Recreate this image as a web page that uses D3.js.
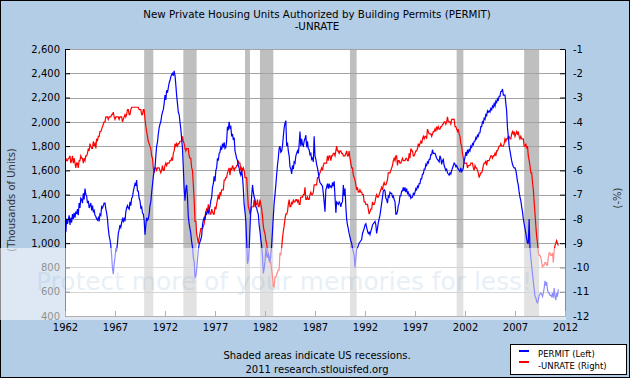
<!DOCTYPE html>
<html><head><meta charset="utf-8">
<script src="https://cdn.jsdelivr.net/npm/d3@7"></script>
<style>body{margin:0;background:#fff}svg{display:block}text{font-family:"DejaVu Sans",Verdana,sans-serif}</style>
</head><body><svg id="c" width="630" height="378"></svg>
<script>
const startYear = 1962;
// PERMIT, thousands of units (SAAR), monthly from Jan 1962
const permit = [
1140,1090,1200,1160,1190,1230,1150,1210,1170,1240,1200,1250,
1210,1260,1240,1280,1230,1330,1290,1370,1360,1330,1410,1360,
1450,1400,1390,1330,1350,1290,1310,1330,1270,1310,1260,1270,
1230,1220,1200,1190,1210,1180,1240,1230,1300,1290,1310,1330,
1330,1280,1250,1200,1120,1060,1030,980,900,790,745,830,
880,960,930,1000,1080,1110,1150,1130,1170,1200,1180,1210,
1180,1260,1290,1310,1290,1280,1340,1310,1370,1380,1430,1460,
1490,1480,1520,1430,1430,1370,1350,1290,1300,1250,1240,1190,
1070,1150,1210,1190,1200,1240,1310,1340,1420,1480,1550,1600,
1620,1720,1800,1830,1900,1950,1980,2000,2050,2080,2100,2150,
2220,2180,2260,2240,2280,2320,2340,2370,2390,2400,2380,2420,
2380,2300,2220,2150,2080,2060,2000,1940,1860,1780,1620,1450,
1350,1450,1480,1380,1220,1160,1120,1080,1010,970,880,850,
720,730,780,860,940,990,1010,1030,1060,1150,1190,1210,
1190,1250,1240,1270,1250,1280,1300,1350,1380,1460,1490,1550,
1510,1600,1620,1700,1680,1740,1750,1790,1770,1820,1790,1830,
1780,1790,1840,1960,1930,2000,1950,1960,1880,1900,1850,1870,
1760,1730,1700,1680,1640,1620,1580,1560,1600,1550,1450,1320,
1260,1180,1020,830,860,950,1120,1280,1390,1480,1420,1380,
1360,1300,1290,1260,1240,1150,1100,1030,980,890,750,790,
850,960,900,880,920,860,850,900,990,1100,1220,1330,
1400,1480,1560,1640,1700,1780,1800,1750,1760,1800,1880,1950,
1990,2010,1800,1830,1760,1720,1630,1610,1570,1640,1610,1670,
1660,1720,1740,1760,1740,1810,1920,1800,1860,1810,1800,1840,
1860,1890,1790,1840,1780,1770,1730,1740,1690,1700,1670,1880,
1720,1690,1650,1620,1580,1530,1500,1490,1480,1470,1410,1340,
1260,1440,1460,1490,1450,1490,1460,1470,1460,1500,1470,1510,
1380,1250,1340,1330,1320,1340,1330,1300,1330,1340,1480,1390,
1450,1300,1200,1150,1120,1080,1050,1020,1000,960,930,900,
800,880,950,960,980,1000,1010,1020,1030,1080,1100,1120,
1150,1160,1130,1100,1080,1090,1070,1100,1120,1150,1160,1170,
1180,1150,1080,1120,1170,1200,1230,1280,1330,1380,1430,1440,
1430,1370,1360,1330,1390,1380,1420,1410,1410,1380,1390,1360,
1340,1240,1240,1260,1310,1330,1390,1390,1430,1430,1460,1430,
1460,1420,1450,1410,1420,1390,1400,1370,1380,1380,1410,1400,
1420,1450,1440,1470,1460,1490,1490,1530,1530,1570,1570,1610,
1610,1650,1640,1670,1660,1690,1690,1730,1730,1770,1740,1740,
1740,1720,1700,1690,1680,1670,1720,1700,1650,1680,1690,1640,
1620,1600,1610,1580,1570,1560,1580,1570,1600,1620,1640,1660,
1650,1630,1640,1620,1610,1600,1590,1620,1590,1600,1620,1680,
1710,1750,1720,1770,1740,1770,1760,1800,1790,1820,1810,1840,
1840,1870,1860,1890,1880,1910,1910,1960,1960,2000,1990,2030,
2020,2060,2050,2090,2080,2090,2080,2110,2100,2130,2120,2150,
2130,2170,2160,2190,2180,2210,2210,2250,2250,2270,2220,2220,
2220,2150,2090,1950,1880,1800,1760,1720,1680,1650,1630,1620,
1620,1600,1560,1510,1480,1420,1380,1350,1300,1260,1200,1160,
1120,1080,1040,1000,1000,1200,960,880,810,750,680,620,
560,550,520,510,530,570,580,590,580,560,590,630,
690,650,680,620,590,590,570,570,560,590,550,630,
560,530,590,560,620
];
// UNRATE, percent, monthly from Jan 1962 (plotted as -UNRATE)
const unrate = [
5.8,5.5,5.6,5.6,5.5,5.5,5.4,5.7,5.6,5.4,5.7,5.5,
5.7,5.9,5.7,5.7,5.9,5.6,5.6,5.4,5.5,5.5,5.7,5.5,
5.6,5.4,5.4,5.3,5.1,5.2,4.9,5.0,5.1,5.1,4.8,5.0,
4.9,5.1,4.7,4.8,4.6,4.6,4.4,4.4,4.3,4.2,4.1,4.0,
4.0,3.8,3.8,3.8,3.9,3.8,3.8,3.8,3.7,3.7,3.6,3.8,
3.9,3.8,3.8,3.8,3.8,3.9,3.8,3.8,3.8,4.0,3.9,3.8,
3.7,3.8,3.7,3.5,3.5,3.7,3.7,3.5,3.4,3.4,3.4,3.4,
3.4,3.4,3.4,3.4,3.4,3.5,3.5,3.5,3.7,3.7,3.5,3.5,
3.9,4.2,4.4,4.6,4.8,4.9,5.0,5.1,5.4,5.5,5.9,6.1,
5.9,5.9,6.0,5.9,5.9,5.9,6.0,6.1,6.0,5.8,6.0,6.0,
5.8,5.7,5.8,5.7,5.7,5.7,5.6,5.6,5.5,5.6,5.3,5.2,
4.9,5.0,4.9,5.0,4.9,4.9,4.8,4.8,4.8,4.6,4.8,4.9,
5.1,5.2,5.1,5.1,5.1,5.4,5.5,5.5,5.9,6.0,6.6,7.2,
8.1,8.1,8.6,8.8,9.0,8.8,8.6,8.4,8.4,8.4,8.3,8.2,
7.9,7.7,7.6,7.7,7.4,7.6,7.8,7.8,7.6,7.7,7.8,7.8,
7.5,7.6,7.4,7.2,7.0,7.2,6.9,7.0,6.8,6.8,6.8,6.4,
6.4,6.3,6.3,6.1,6.0,5.9,6.2,5.9,6.0,5.8,5.9,6.0,
5.9,5.9,5.8,5.8,5.6,5.7,5.7,6.0,5.9,6.0,5.9,6.0,
6.3,6.3,6.3,6.9,7.5,7.6,7.8,7.7,7.5,7.5,7.5,7.2,
7.5,7.4,7.4,7.2,7.5,7.5,7.2,7.4,7.6,7.9,8.3,8.5,
8.6,8.9,9.0,9.3,9.4,9.6,9.8,9.8,10.1,10.4,10.8,10.8,
10.4,10.4,10.3,10.2,10.1,10.1,9.4,9.5,9.2,8.8,8.5,8.3,
8.0,7.8,7.8,7.7,7.4,7.2,7.5,7.5,7.3,7.4,7.2,7.3,
7.3,7.2,7.2,7.3,7.2,7.4,7.4,7.1,7.1,7.1,7.0,7.0,
6.7,7.2,7.2,7.1,7.2,7.2,7.0,6.9,7.0,7.0,6.9,6.6,
6.6,6.6,6.6,6.3,6.3,6.2,6.1,6.0,5.9,6.0,5.8,5.7,
5.7,5.7,5.7,5.4,5.6,5.4,5.4,5.6,5.4,5.4,5.3,5.3,
5.4,5.2,5.0,5.2,5.2,5.3,5.2,5.2,5.3,5.3,5.4,5.4,
5.4,5.3,5.2,5.4,5.4,5.2,5.5,5.7,5.9,5.9,6.2,6.3,
6.4,6.6,6.8,6.7,6.9,6.9,6.8,6.9,6.9,7.0,7.0,7.3,
7.3,7.4,7.4,7.4,7.6,7.8,7.7,7.6,7.6,7.3,7.4,7.4,
7.3,7.1,7.0,7.1,7.1,7.0,6.9,6.8,6.7,6.8,6.6,6.5,
6.6,6.6,6.5,6.4,6.1,6.1,6.1,6.0,5.9,5.8,5.6,5.5,
5.6,5.4,5.4,5.8,5.6,5.6,5.7,5.7,5.6,5.5,5.6,5.6,
5.6,5.5,5.5,5.6,5.6,5.3,5.5,5.1,5.2,5.2,5.4,5.4,
5.3,5.2,5.2,5.1,4.9,5.0,4.9,4.8,4.9,4.7,4.6,4.7,
4.6,4.6,4.7,4.3,4.4,4.5,4.5,4.5,4.6,4.5,4.4,4.4,
4.3,4.4,4.2,4.3,4.2,4.3,4.3,4.2,4.2,4.1,4.1,4.0,
4.0,4.1,4.0,3.8,4.0,4.0,4.0,4.1,3.9,3.9,3.9,3.9,
4.2,4.2,4.3,4.4,4.3,4.5,4.6,4.9,5.0,5.3,5.5,5.7,
5.7,5.7,5.7,5.9,5.8,5.8,5.8,5.7,5.7,5.7,5.9,6.0,
5.8,5.9,5.9,6.0,6.1,6.3,6.2,6.1,6.1,6.0,5.8,5.7,
5.7,5.6,5.8,5.6,5.6,5.6,5.5,5.4,5.4,5.5,5.4,5.4,
5.3,5.4,5.2,5.2,5.1,5.0,5.0,4.9,5.0,5.0,5.0,4.9,
4.7,4.8,4.7,4.7,4.6,4.6,4.7,4.7,4.5,4.4,4.5,4.4,
4.6,4.5,4.4,4.5,4.4,4.6,4.7,4.6,4.7,4.7,4.7,5.0,
5.0,4.9,5.1,5.0,5.4,5.6,5.8,6.1,6.1,6.5,6.8,7.3,
7.8,8.3,8.7,9.0,9.4,9.5,9.5,9.6,9.8,10.0,9.9,9.9,
9.8,9.8,9.9,9.9,9.6,9.4,9.4,9.5,9.5,9.4,9.8,9.3,
9.1,9.0,8.9,9.0,9.1
];
const recessions = [["1969-12","1970-11"],["1973-11","1975-03"],["1980-01","1980-07"],["1981-07","1982-11"],["1990-07","1991-03"],["2001-03","2001-11"],["2007-12","2009-06"]];
const leftTicks = [400,600,800,1000,1200,1400,1600,1800,2000,2200,2400,2600];
const rightTicks = [-12,-11,-10,-9,-8,-7,-6,-5,-4,-3,-2,-1];
const yearTicks = [1962,1967,1972,1977,1982,1987,1992,1997,2002,2007,2012];

const svg = d3.select("#c");
const L = 65, R = 565, T = 49, B = 316;
const parseM = d3.timeParse("%Y-%m");
const x = d3.scaleTime().domain([new Date(1962,0,1), new Date(2012,0,1)]).range([L, R]);
const yL = d3.scaleLinear().domain([400,2600]).range([B, T]);
const yR = d3.scaleLinear().domain([-12,-1]).range([B, T]);
const dateOf = i => new Date(startYear, i, 1);

// background
svg.append("rect").attr("x",0).attr("y",0).attr("width",630).attr("height",378).attr("fill","#b4cde6");
svg.append("rect").attr("x",0.5).attr("y",0.5).attr("width",629).attr("height",377).attr("fill","none").attr("stroke","#000").attr("stroke-width",1);
svg.append("rect").attr("x",L).attr("y",T).attr("width",R-L).attr("height",B-T).attr("fill","#fff");

// recessions
svg.append("g").selectAll("rect").data(recessions).join("rect")
  .attr("x", d => x(parseM(d[0]))).attr("y", T)
  .attr("width", d => x(parseM(d[1])) - x(parseM(d[0]))).attr("height", B-T)
  .attr("fill","#bfbfbf");

// grid
svg.append("g").selectAll("line").data(leftTicks).join("line")
  .attr("x1",L).attr("x2",R).attr("y1",d=>Math.round(yL(d))+0.5).attr("y2",d=>Math.round(yL(d))+0.5)
  .attr("stroke","#a3a3a3").attr("stroke-width",1);

svg.append("clipPath").attr("id","pc").append("rect").attr("x",L).attr("y",T-2).attr("width",R-L).attr("height",B-T+2);
const gl = svg.append("g").attr("clip-path","url(#pc)");
const lineL = d3.line().x((d,i)=>x(dateOf(i))).y(d=>yL(d));
const lineR = d3.line().x((d,i)=>x(dateOf(i))).y(d=>yR(-d));
gl.append("path").attr("d", lineR(unrate)).attr("fill","none").attr("stroke","#ff0000").attr("stroke-width",1.2);
gl.append("path").attr("d", lineL(permit)).attr("fill","none").attr("stroke","#0000ff").attr("stroke-width",1.2);

// axes
const axL = d3.axisLeft(yL).tickValues(leftTicks).tickSizeInner(-5).tickSizeOuter(0).tickPadding(5).tickFormat(d3.format(","));
const axR = d3.axisRight(yR).tickValues(rightTicks).tickSizeInner(-5).tickSizeOuter(0).tickPadding(8).tickFormat(d=>String(d));
const axB = d3.axisBottom(x).tickValues(yearTicks.map(y=>new Date(y,0,1))).tickSizeInner(-5).tickSizeOuter(0).tickPadding(8).tickFormat(d3.timeFormat("%Y"));
function style(g){ g.selectAll("text").attr("font-size",10).attr("fill","#000").style("font-family",'"DejaVu Sans",Verdana,sans-serif'); g.attr("font-size",10); g.selectAll("path,line").attr("stroke","#000"); }
svg.append("g").attr("transform",`translate(${L},0)`).call(axL).call(style);
svg.append("g").attr("transform",`translate(${R},0)`).call(axR).call(style).selectAll("text").attr("text-anchor","start");
const gb = svg.append("g").attr("transform",`translate(0,${B})`).call(axB).call(style);
gb.selectAll("path,line").attr("stroke","#555");

// axis titles
svg.append("text").attr("transform","translate(15,200) rotate(-90)").attr("text-anchor","middle").attr("font-size",10).attr("fill","#333").text("(Thousands of Units)");
svg.append("text").attr("transform","translate(621,198) rotate(-90)").attr("text-anchor","middle").attr("font-size",10).attr("fill","#333").text("(-%)");

// title
svg.append("text").attr("x",317).attr("y",18).attr("text-anchor","middle").attr("font-size",10.3).attr("fill","#000").text("New Private Housing Units Authorized by Building Permits (PERMIT)");
svg.append("text").attr("x",317).attr("y",30).attr("text-anchor","middle").attr("font-size",10.3).attr("fill","#000").text("-UNRATE");

// watermark band
svg.append("rect").attr("x",0).attr("y",248).attr("width",566).attr("height",72).attr("fill","#fff").attr("opacity",0.55);
svg.append("text").attr("x",36).attr("y",290).attr("font-size",24).attr("textLength",496).attr("lengthAdjust","spacingAndGlyphs")
  .attr("fill","#6f9fd0").attr("opacity",0.16).text("Protect more of your memories for less!");

// footer
svg.append("text").attr("x",317).attr("y",359).attr("text-anchor","middle").attr("font-size",10).attr("fill","#000").text("Shaded areas indicate US recessions.");
svg.append("text").attr("x",317).attr("y",373).attr("text-anchor","middle").attr("font-size",10).attr("fill","#000").text("2011 research.stlouisfed.org");

// legend
const lg = svg.append("g");
lg.append("rect").attr("x",510.5).attr("y",344.5).attr("width",116).attr("height",30).attr("fill","#fff").attr("stroke","#000");
lg.append("line").attr("x1",519).attr("x2",529).attr("y1",351).attr("y2",351).attr("stroke","#0000ff").attr("stroke-width",2);
lg.append("line").attr("x1",519).attr("x2",529).attr("y1",362).attr("y2",362).attr("stroke","#ff0000").attr("stroke-width",2);
lg.append("text").attr("x",538).attr("y",357).attr("font-size",8.5).attr("fill","#000").text("PERMIT (Left)");
lg.append("text").attr("x",538).attr("y",369).attr("font-size",8.5).attr("fill","#000").text("-UNRATE (Right)");
</script></body></html>
